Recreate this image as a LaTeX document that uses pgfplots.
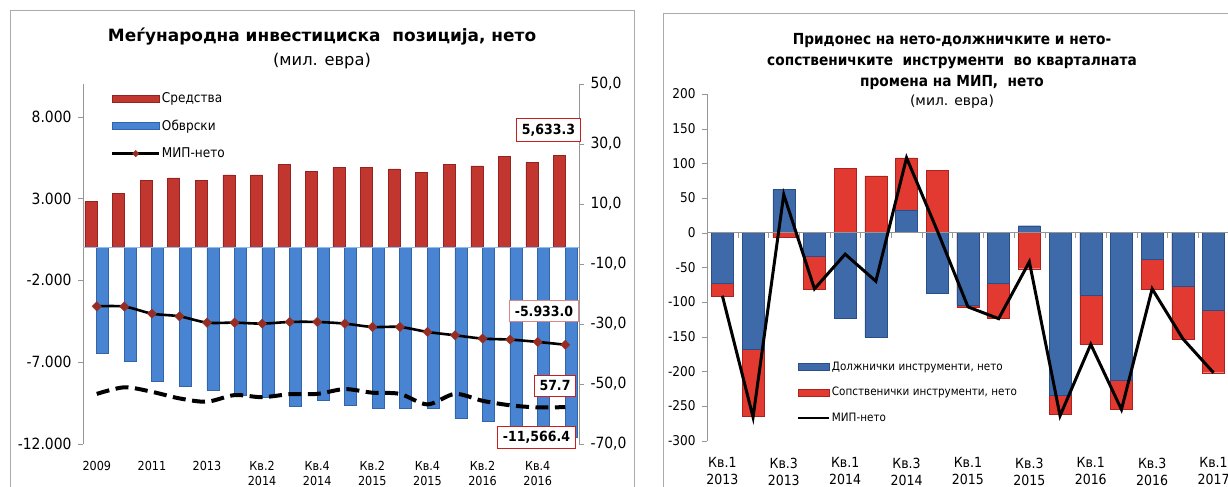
\documentclass[border=0pt]{standalone}
\usepackage{fontspec}
\setmainfont{DejaVu Sans}[FakeStretch=0.9]
\newfontfamily\wide{DejaVu Sans}
\usepackage{pgfplots}
\pgfplotsset{compat=1.18}
\definecolor{redbar}{RGB}{194,54,48}
\definecolor{redbarE}{RGB}{150,35,32}
\definecolor{bluebar}{RGB}{72,132,210}
\definecolor{bluebarE}{RGB}{50,100,170}
\definecolor{rblue}{RGB}{62,106,170}
\definecolor{rblueE}{RGB}{42,78,135}
\definecolor{rred}{RGB}{226,58,48}
\definecolor{rredE}{RGB}{170,35,30}
\definecolor{diam}{RGB}{150,45,35}
\definecolor{axgray}{RGB}{150,150,150}
\definecolor{labred}{RGB}{200,30,30}
\definecolor{labpink}{RGB}{215,135,135}
\definecolor{zeroblue}{RGB}{140,190,240}
\begin{document}
\begin{tikzpicture}
% chart frames
\draw[axgray!80, line width=0.8bp] (10bp,-5bp) -- (10bp,477bp) -- (634bp,477bp) -- (634bp,-5bp);
\draw[axgray!80, line width=0.8bp] (663bp,-5bp) -- (663bp,474bp) -- (1240bp,474bp);

% ================= LEFT CHART =================
\begin{axis}[
  at={(83bp,43bp)}, anchor=south west, scale only axis,
  width=496bp, height=360bp,
  xmin=-0.5, xmax=17.5, ymin=-12000, ymax=10000,
  scaled y ticks=false,
  axis x line*=bottom, axis y line*=left,
  x axis line style={draw=none}, y axis line style={draw=axgray},
  xtick={0,2,...,16},
  xticklabels={2009,2011,2013,{Кв.2\\2014},{Кв.4\\2014},{Кв.2\\2015},{Кв.4\\2015},{Кв.2\\2016},{Кв.4\\2016}},
  xtick style={draw=none},
  xticklabel style={align=center, font=\fontsize{12.5}{15}\selectfont, yshift=-8.5bp},
  ytick={-12000,-7000,-2000,3000,8000},
  yticklabels={-12.000,-7.000,-2.000,3.000,8.000},
  ytick style={draw=axgray},
  yticklabel style={font=\fontsize{15.5}{17}\selectfont, xshift=-3bp},
  tick align=outside, major tick length=5bp,
  legend cell align=left,
  legend style={at={(0.056,0.98)}, anchor=north west, draw=none, fill=none,
    inner sep=0pt, row sep=12.8bp, font=\fontsize{13.5}{15}\selectfont,
    nodes={inner sep=1.5bp}},
]
\addplot[ybar, bar width=12bp, bar shift=-5.8bp, draw=redbarE, line width=0.4bp,
  fill=redbar, forget plot]
  coordinates {(0,2817) (1,3325) (2,4100) (3,4262) (4,4100) (5,4445) (6,4445) (7,5074) (8,4646)
   (9,4910) (10,4910) (11,4811) (12,4585) (13,5074) (14,4994) (15,5563) (16,5215) (17,5633.3)};
\addplot[ybar, bar width=12bp, bar shift=5.8bp, draw=bluebarE, line width=0.4bp,
  fill=bluebar, forget plot]
  coordinates {(0,-6433) (1,-6921) (2,-8160) (3,-8465) (4,-8710) (5,-9015) (6,-9120) (7,-9668) (8,-9320)
   (9,-9625) (10,-9790) (11,-9790) (12,-9790) (13,-10437) (14,-10584) (15,-11183) (16,-10977) (17,-11566.4)};
\draw[zeroblue, line width=0.8bp] (axis cs:-0.5,0) -- (axis cs:17.5,0);
\addplot[black, line width=2.6bp, smooth, mark=square*, mark size=3.3bp,
  mark options={rotate=45, fill=diam, draw=diam, line width=0.4bp, solid}, forget plot]
  coordinates {(0,-3587) (1,-3600) (2,-4033) (3,-4197) (4,-4583) (5,-4583) (6,-4643) (7,-4542) (8,-4542)
   (9,-4643) (10,-4848) (11,-4848) (12,-5152) (13,-5356) (14,-5559) (15,-5620) (16,-5762) (17,-5933.0)};
\addlegendimage{legend image code/.code={\draw[draw=redbarE, fill=redbar] (0bp,-3.5bp) rectangle (47bp,3.5bp);}}
\addlegendentry{Средства}
\addlegendimage{legend image code/.code={\draw[draw=bluebarE, fill=bluebar] (0bp,-3.5bp) rectangle (47bp,3.5bp);}}
\addlegendentry{Обврски}
\addlegendimage{legend image code/.code={\draw[black, line width=2.5bp] (0bp,0bp) -- (47bp,0bp);
  \fill[diam] (23.5bp,3.2bp) -- (26.7bp,0bp) -- (23.5bp,-3.2bp) -- (20.3bp,0bp) -- cycle;}}
\addlegendentry{МИП-нето}
\end{axis}

\begin{axis}[
  at={(83bp,43bp)}, anchor=south west, scale only axis,
  width=496bp, height=360bp,
  xmin=-0.5, xmax=17.5, ymin=-70, ymax=50,
  axis y line*=right, axis x line=none,
  y axis line style={draw=axgray},
  ytick={-70,-50,-30,-10,10,30,50},
  yticklabels={{-70,0},{-50,0},{-30,0},{-10,0},{10,0},{30,0},{50,0}},
  ytick style={draw=axgray},
  yticklabel style={font=\fontsize{15.5}{17}\selectfont, xshift=3bp},
  tick align=outside, major tick length=5bp,
]
\addplot[black, line width=4bp, smooth, dash pattern=on 13bp off 6.5bp]
  coordinates {(0,-53.3) (1,-51.1) (2,-52.6) (3,-54.8) (4,-55.9) (5,-53.7) (6,-54.4) (7,-53.4) (8,-53.3)
   (9,-51.7) (10,-52.9) (11,-53.3) (12,-56.8) (13,-53.3) (14,-55.6) (15,-57.1) (16,-57.8) (17,-57.7)};
\end{axis}

% data labels (left)
\node[draw=labred, fill=white, line width=1bp, inner xsep=5bp, minimum height=23bp,
  font=\bfseries\fontsize{14}{16}\selectfont] at (548.5bp,357bp) {5,633.3};
\node[draw=labpink, fill=white, line width=1bp, inner xsep=5bp, minimum height=21bp,
  font=\bfseries\fontsize{14}{16}\selectfont] at (544bp,176bp) {-5.933.0};
\node[draw=labred, fill=white, line width=1bp, inner xsep=5bp, minimum height=21bp,
  font=\bfseries\fontsize{14}{16}\selectfont] at (555bp,101bp) {57.7};
\node[draw=labred, fill=white, line width=1bp, inner xsep=5bp, minimum height=22bp,
  font=\bfseries\fontsize{14}{16}\selectfont] at (536.5bp,49.5bp) {-11,566.4};

% titles (left)
\node[font=\wide\bfseries\fontsize{17}{20}\selectfont] at (322bp,450bp) {Меѓународна инвестициска\ \ позиција, нето};
\node[font=\wide\fontsize{16.3}{19}\selectfont] at (322bp,426bp) {(мил. евра)};

% ================= RIGHT CHART =================
\begin{axis}[
  at={(707bp,46.3bp)}, anchor=south west, scale only axis,
  width=521.9bp, height=346.7bp,
  xmin=-0.5, xmax=16.5, ymin=-300, ymax=200,
  scaled y ticks=false,
  axis x line*=bottom, axis y line*=left,
  x axis line style={draw=none}, y axis line style={draw=axgray},
  xtick={0,2,...,16},
  xticklabels={{Кв.1\\2013},{Кв.3\\2013},{Кв.1\\2014},{Кв.3\\2014},{Кв.1\\2015},{Кв.3\\2015},{Кв.1\\2016},{Кв.3\\2016},{Кв.1\\2017}},
  xtick style={draw=none},
  xticklabel style={align=center, font=\fontsize{14}{17}\selectfont, yshift=-8.5bp},
  ytick={-300,-250,-200,-150,-100,-50,0,50,100,150,200},
  yticklabels={-300,-250,-200,-150,-100,-50,0,50,100,150,200},
  ytick style={draw=axgray},
  yticklabel style={font=\fontsize{13.5}{15}\selectfont, xshift=-3bp},
  tick align=outside, major tick length=5bp,
  legend cell align=left,
  legend style={at={(0.172,0.2327)}, anchor=north west, draw=none, fill=none,
    inner sep=0pt, row sep=12.6bp, font=\fontsize{11.6}{13}\selectfont,
    nodes={inner sep=1.5bp}},
]
\addplot[ybar, bar width=22bp, bar shift=0bp, draw=rredE, line width=0.4bp, fill=rred, forget plot]
  coordinates {(0,-91) (1,-265) (2,-7) (3,-81) (8,-107) (9,-124) (10,-52) (11,-262) (12,-161) (13,-254) (14,-81) (15,-153) (16,-202)};
\addplot[ybar, bar width=22bp, bar shift=0bp, draw=rredE, line width=0.4bp, fill=rred, forget plot]
  coordinates {(4,93) (5,82) (6,108) (7,90)};
\addplot[ybar, bar width=22bp, bar shift=0bp, draw=rblueE, line width=0.4bp, fill=rblue, forget plot]
  coordinates {(0,-73) (1,-168) (3,-34) (4,-124) (5,-151) (7,-87) (8,-104) (9,-73) (11,-235) (12,-90) (13,-213) (14,-38) (15,-77) (16,-112)};
\addplot[ybar, bar width=22bp, bar shift=0bp, draw=rblueE, line width=0.4bp, fill=rblue, forget plot]
  coordinates {(2,62) (6,33) (10,10)};
\draw[axgray] (axis cs:-0.5,0) -- (axis cs:16.5,0);
\pgfplotsinvokeforeach{0.5,1.5,...,15.5}{\draw[axgray] (axis cs:#1,0) -- ++(0bp,-5bp);}
\addplot[black, line width=3bp, sharp plot, forget plot]
  coordinates {(0,-91) (1,-266) (2,55) (3,-81) (4,-31) (5,-70) (6,108) (7,3) (8,-107) (9,-124) (10,-42) (11,-264) (12,-161) (13,-255) (14,-81) (15,-153) (16,-202)};
\addlegendimage{legend image code/.code={\draw[draw=rblueE, fill=rblue] (0bp,-3.5bp) rectangle (31bp,3.5bp);}}
\addlegendentry{Должнички инструменти, нето}
\addlegendimage{legend image code/.code={\draw[draw=rredE, fill=rred] (0bp,-3.5bp) rectangle (31bp,3.5bp);}}
\addlegendentry{Сопственички инструменти, нето}
\addlegendimage{legend image code/.code={\draw[black, line width=2.5bp] (0bp,0bp) -- (31bp,0bp);}}
\addlegendentry{МИП-нето}
\end{axis}

% titles (right)
\node[align=center, font=\bfseries\fontsize{15.3}{21.5}\selectfont] at (952bp,425.5bp)
  {Придонес\ на нето-должничките\ и нето-\\сопственичките\ \ инструменти\ \ во кварталната\\промена\ на МИП,\ \ нето};
\node[font=\wide\fontsize{14}{16}\selectfont] at (952bp,385bp) {(мил. евра)};

\pgfresetboundingbox
\path[use as bounding box] (0bp,0bp) rectangle (1228bp,487bp);
\end{tikzpicture}
\end{document}
